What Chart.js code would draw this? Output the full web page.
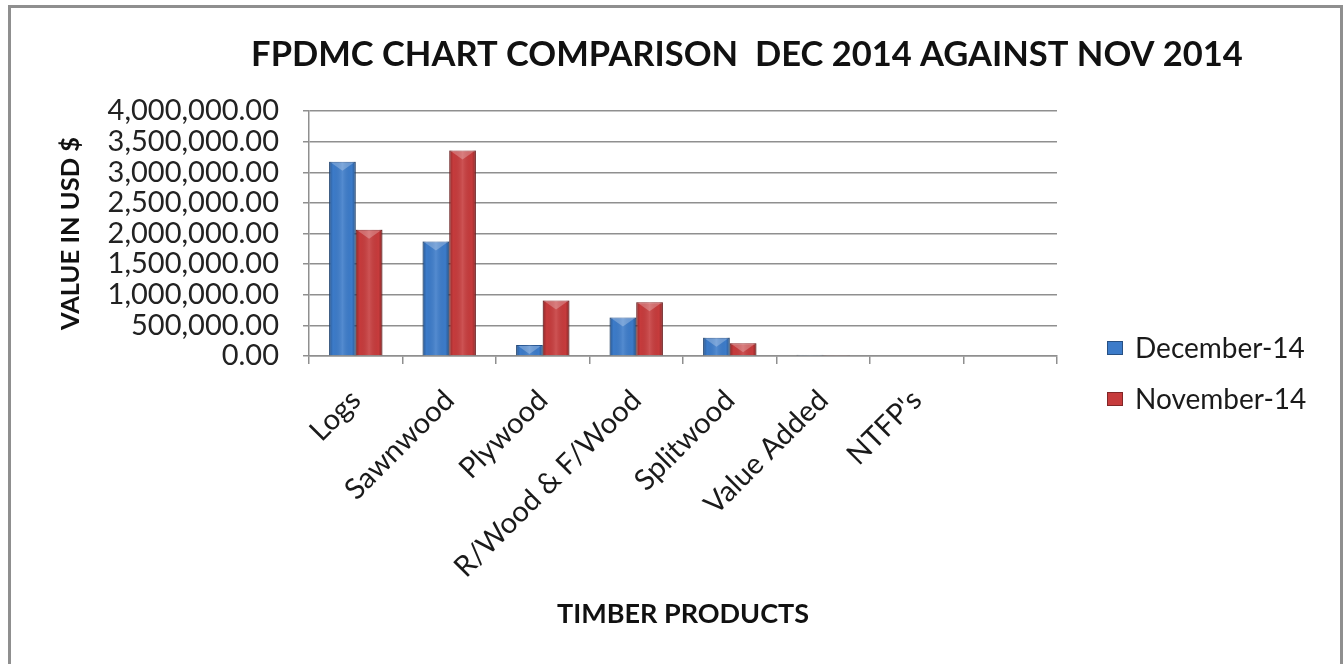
<!DOCTYPE html>
<html>
<head>
<meta charset="utf-8">
<script src="https://cdn.jsdelivr.net/npm/chart.js@4"></script>
<style>
  html, body { margin: 0; padding: 0; background: #fff; }
  #wrap { position: relative; width: 1344px; height: 664px; }
  #frame { position: absolute; left: 8px; top: 5px; width: 1335px; height: 670px; border: 3px solid #8f8f8f; box-sizing: border-box; }
  canvas { position: absolute; left: 0; top: 0; }
</style>
</head>
<body>
<div id="wrap">
  <div id="frame"></div>
  <canvas id="chart" width="1344" height="664"></canvas>
</div>
<script>
const categories = ["Logs", "Sawnwood", "Plywood", "R/Wood & F/Wood", "Splitwood", "Value Added", "NTFP's", ""];
const december14 = [3171000, 1871000, 180000, 627000, 300000, 18000, 12000, null];
const november14 = [2063000, 3357000, 905000, 879000, 208000, 15000, 0, null];
const seriesNames = ["December-14", "November-14"];
const chartTitle = "FPDMC CHART COMPARISON  DEC 2014 AGAINST NOV 2014";

const FONT = "Lato, 'Open Sans', sans-serif";
const BLUE = "#3c7bc9";
const RED = "#c63b3c";

// title + legend drawn by hand so they sit where excel put them
const extras = {
    id: "extras",
    afterDraw(chart) {
        const c = chart.ctx;
        c.save();
        c.fillStyle = "#111";
        c.font = "bold 34.5px " + FONT;
        c.textAlign = "center";
        c.textBaseline = "middle";
        c.fillText(chartTitle, 747, 55);

        const cols = [BLUE, RED];
        const ys = [348, 399];
        c.font = "28px " + FONT;
        c.textAlign = "left";
        seriesNames.forEach((name, i) => {
            c.fillStyle = cols[i];
            c.fillRect(1107, ys[i] - 7, 16, 14);
            c.strokeStyle = "rgba(0,0,0,0.35)";
            c.lineWidth = 1;
            c.strokeRect(1107.5, ys[i] - 6.5, 15, 13);
            c.fillStyle = "#1a1a1a";
            c.fillText(name, 1135, ys[i] + 1);
        });
        c.restore();
    },
    // bevel look on the bars
    afterDatasetsDraw(chart) {
        const c = chart.ctx;
        c.save();
        chart.data.datasets.forEach((ds, di) => {
            chart.getDatasetMeta(di).data.forEach(bar => {
                const w = bar.width, left = bar.x - w / 2;
                const top = Math.min(bar.y, bar.base), h = Math.abs(bar.base - bar.y);
                if (!h || !isFinite(h)) return;
                const g = c.createLinearGradient(left, 0, left + w, 0);
                g.addColorStop(0, "rgba(0,0,0,0.28)");
                g.addColorStop(0.15, "rgba(0,0,0,0.0)");
                g.addColorStop(0.5, "rgba(255,255,255,0.12)");
                g.addColorStop(0.85, "rgba(0,0,0,0.0)");
                g.addColorStop(1, "rgba(0,0,0,0.30)");
                c.fillStyle = g;
                c.fillRect(left, top, w, h);
                if (h > 10) {
                    c.fillStyle = "rgba(255,255,255,0.25)";
                    c.beginPath();
                    c.moveTo(left + 2, top + 1);
                    c.lineTo(left + w - 2, top + 1);
                    c.lineTo(bar.x, top + 9);
                    c.closePath();
                    c.fill();
                }
            });
        });
        c.restore();
    }
};

new Chart(document.getElementById("chart"), {
    type: "bar",
    data: {
        labels: categories,
        datasets: [
            { label: seriesNames[0], data: december14, backgroundColor: BLUE, borderColor: "#2a5a98", borderWidth: 1 },
            { label: seriesNames[1], data: november14, backgroundColor: RED, borderColor: "#952a2b", borderWidth: 1 }
        ]
    },
    options: {
        responsive: false,
        animation: false,
        layout: { padding: { top: 111, right: 287, bottom: 20, left: 20 } },
        datasets: { bar: { categoryPercentage: 0.57, barPercentage: 1.0 } },
        plugins: {
            legend: { display: false },
            tooltip: { enabled: false }
        },
        scales: {
            x: {
                grid: { offset: true, drawOnChartArea: false, tickLength: 8, color: "#8f8f8f", lineWidth: 1.5 },
                border: { color: "#8f8f8f", width: 1.5 },
                ticks: {
                    autoSkip: false, minRotation: 45, maxRotation: 45, padding: 19,
                    color: "#1a1a1a", font: { family: FONT, size: 29 }
                },
                title: {
                    display: true, text: "TIMBER PRODUCTS", color: "#111",
                    font: { family: FONT, size: 27, weight: "bold" }, padding: { top: 0, bottom: 14 }
                },
                afterFit(s) { s.height = 288; }
            },
            y: {
                min: 0, max: 4000000,
                grid: { tickLength: 6, color: "#8f8f8f", lineWidth: 1.5 },
                border: { color: "#8f8f8f", width: 1.5 },
                ticks: {
                    stepSize: 500000, autoSkip: false, padding: 24, color: "#222",
                    font: { family: FONT, size: 29 },
                    callback: v => v.toLocaleString("en-US", { minimumFractionDigits: 2, maximumFractionDigits: 2 })
                },
                title: {
                    display: true, text: "VALUE IN USD $", color: "#111",
                    font: { family: FONT, size: 25.5, weight: "bold" }, padding: { top: 35, bottom: 0 }
                },
                afterFit(s) { s.width = 289; }
            }
        }
    },
    plugins: [extras]
});
</script>
</body>
</html>
